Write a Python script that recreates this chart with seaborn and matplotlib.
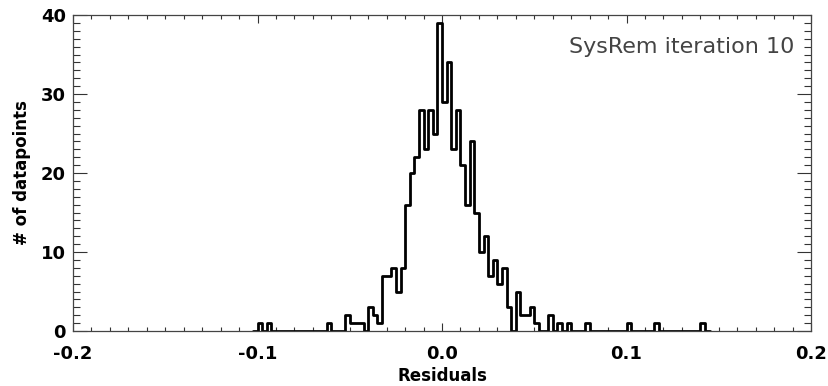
import numpy as np
import pandas as pd
import matplotlib
matplotlib.use("Agg")
import matplotlib.pyplot as plt
import seaborn as sns
from matplotlib.ticker import MultipleLocator, FormatStrFormatter

# Residual histogram after 10 SysRem iterations (bin centres and counts, bin width 0.0025)
residual_bins = [
    -0.09875, -0.09375, -0.06125, -0.05125, -0.04875, -0.04625, -0.04375,
    -0.03875, -0.03625, -0.03375, -0.03125, -0.02875, -0.02625, -0.02375,
    -0.02125, -0.01875, -0.01625, -0.01375, -0.01125, -0.00875, -0.00625,
    -0.00375, -0.00125, 0.00125, 0.00375, 0.00625, 0.00875, 0.01125,
    0.01375, 0.01625, 0.01875, 0.02125, 0.02375, 0.02625, 0.02875,
    0.03125, 0.03375, 0.03625, 0.04125, 0.04375, 0.04625, 0.04875,
    0.05125, 0.05875, 0.06375, 0.06875, 0.07875, 0.10125, 0.11625, 0.14125,
]
counts = [
    1, 1, 1, 2, 1, 1, 1,
    3, 2, 1, 7, 7, 8, 5,
    8, 16, 20, 22, 28, 23, 28,
    25, 39, 29, 34, 23, 28, 21,
    16, 24, 15, 10, 12, 7, 9,
    6, 8, 3, 5, 2, 2, 3,
    1, 2, 1, 1, 1, 1, 1, 1,
]
bin_width = 0.0025
x_ticks = [-0.2, -0.1, 0.0, 0.1, 0.2]
y_ticks = [0, 10, 20, 30, 40]

sns.set_style("ticks")
plt.rcParams["font.family"] = ["DejaVu Sans"]
plt.rcParams["axes.unicode_minus"] = False
plt.rcParams["text.color"] = "black"
plt.rcParams["axes.labelcolor"] = "black"
plt.rcParams["xtick.color"] = "black"
plt.rcParams["ytick.color"] = "black"

fig = plt.figure(figsize=(8.29, 3.86), dpi=100)
ax = fig.add_axes([0.0881, 0.1425, 0.8902, 0.8185])

df = pd.DataFrame({"residual": residual_bins, "count": counts})
edges = [float(k) * bin_width for k in range(-41, 59)]
sns.histplot(data=df, x="residual", weights="count", bins=edges,
             element="step", fill=False, color="black", linewidth=2.0, ax=ax)

ax.set_xlim(-0.2, 0.2)
ax.set_ylim(0, 40)
ax.set_xticks(x_ticks)
ax.set_yticks(y_ticks)
ax.xaxis.set_minor_locator(MultipleLocator(0.01))
ax.yaxis.set_minor_locator(MultipleLocator(1))
ax.xaxis.set_major_formatter(FormatStrFormatter("%.1f"))

for s in ax.spines.values():
    s.set_color("#444444")
    s.set_linewidth(0.9)

ax.tick_params(which="both", direction="in", top=True, right=True,
               color="#333333", width=0.8, labelcolor="black")
ax.tick_params(axis="x", which="major", length=5.5, pad=10)
ax.tick_params(axis="x", which="minor", length=3)
ax.tick_params(axis="y", which="major", length=10, pad=5)
ax.tick_params(axis="y", which="minor", length=5)

for lab in ax.get_xticklabels() + ax.get_yticklabels():
    lab.set_fontweight("bold")
    lab.set_fontsize(13)

ax.set_xlabel("Residuals", fontsize=12, fontweight="bold", labelpad=3)
ax.set_ylabel("# of datapoints", fontsize=12, fontweight="bold", labelpad=7)

ax.text(0.978, 0.9, "SysRem iteration 10", transform=ax.transAxes,
        ha="right", va="center", fontsize=16, color="#444444")

fig.savefig("out.png", dpi=100)
